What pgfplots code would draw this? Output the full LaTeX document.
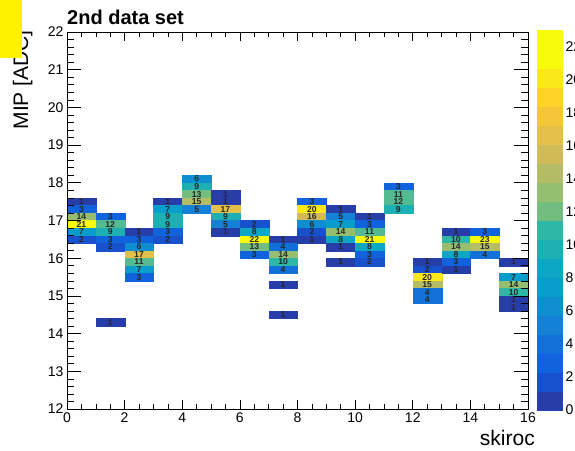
\documentclass[border=0pt]{standalone}
\usepackage{pgfplots}
\pgfplotsset{compat=1.18}
\usepackage{fontspec}
\setmainfont{Liberation Sans}
\pgfplotsset{
  colormap={rootbird}{
    rgb=(0.1519,0.2395,0.6575)
    rgb=(0.0909,0.3187,0.7962)
    rgb=(0.0629,0.3883,0.8625)
    rgb=(0.0700,0.4428,0.8512)
    rgb=(0.0777,0.5018,0.8390)
    rgb=(0.0564,0.5584,0.8199)
    rgb=(0.0340,0.6148,0.8007)
    rgb=(0.0516,0.6556,0.7645)
    rgb=(0.1158,0.6867,0.7035)
    rgb=(0.1802,0.7178,0.6425)
    rgb=(0.3237,0.7307,0.5702)
    rgb=(0.4556,0.7425,0.5037)
    rgb=(0.5869,0.7460,0.4433)
    rgb=(0.7050,0.7393,0.3957)
    rgb=(0.8214,0.7337,0.3475)
    rgb=(0.8883,0.7538,0.2896)
    rgb=(0.9607,0.7757,0.2270)
    rgb=(0.9915,0.8282,0.1664)
    rgb=(0.9837,0.9087,0.1079)
    rgb=(0.9764,0.9832,0.0539)
    rgb=(0.9764,0.9832,0.0539)
  },
  colormap access=piecewise constant,
}
\pgfplotstableread{
x y z
0.5 17.5 1
0.5 17.3 3
0.5 17.1 14
0.5 16.9 21
0.5 16.7 7
0.5 16.5 2
1.5 17.1 3
1.5 16.9 12
1.5 16.7 9
1.5 16.5 3
1.5 16.3 2
1.5 14.3 1
2.5 16.7 1
2.5 16.5 3
2.5 16.3 6
2.5 16.1 17
2.5 15.9 11
2.5 15.7 7
2.5 15.5 3
3.5 17.5 1
3.5 17.3 7
3.5 17.1 9
3.5 16.9 9
3.5 16.7 3
3.5 16.5 2
4.5 18.1 6
4.5 17.9 9
4.5 17.7 13
4.5 17.5 15
4.5 17.3 5
5.5 17.7 1
5.5 17.5 1
5.5 17.3 17
5.5 17.1 9
5.5 16.9 5
5.5 16.7 1
6.5 16.9 2
6.5 16.7 8
6.5 16.5 22
6.5 16.3 13
6.5 16.1 3
7.5 16.5 1
7.5 16.3 4
7.5 16.1 14
7.5 15.9 10
7.5 15.7 4
7.5 15.3 1
7.5 14.5 1
8.5 17.5 3
8.5 17.3 20
8.5 17.1 16
8.5 16.9 6
8.5 16.7 2
8.5 16.5 1
9.5 17.3 1
9.5 17.1 5
9.5 16.9 7
9.5 16.7 14
9.5 16.5 8
9.5 16.3 1
9.5 15.9 1
10.5 17.1 1
10.5 16.9 3
10.5 16.7 11
10.5 16.5 21
10.5 16.3 8
10.5 16.1 3
10.5 15.9 2
11.5 17.9 3
11.5 17.7 11
11.5 17.5 12
11.5 17.3 9
12.5 15.9 1
12.5 15.7 2
12.5 15.5 20
12.5 15.3 15
12.5 15.1 4
12.5 14.9 4
13.5 16.7 1
13.5 16.5 10
13.5 16.3 14
13.5 16.1 8
13.5 15.9 3
13.5 15.7 1
14.5 16.7 3
14.5 16.5 23
14.5 16.3 15
14.5 16.1 4
15.5 15.9 1
15.5 15.5 7
15.5 15.3 14
15.5 15.1 10
15.5 14.9 1
15.5 14.7 1
}\cells
\pgfplotstableread{
x y z
0.5 0.575 0.575
0.5 1.725 1.725
0.5 2.875 2.875
0.5 4.025 4.025
0.5 5.175 5.175
0.5 6.325 6.325
0.5 7.475 7.475
0.5 8.625 8.625
0.5 9.775 9.775
0.5 10.925 10.925
0.5 12.075 12.075
0.5 13.225 13.225
0.5 14.375 14.375
0.5 15.525 15.525
0.5 16.675 16.675
0.5 17.825 17.825
0.5 18.975 18.975
0.5 20.125 20.125
0.5 21.275 21.275
0.5 22.425 22.425
}\bands
\begin{document}
\begin{tikzpicture}
% main axis: cells and x ticks
\begin{axis}[
  at={(67pt,41pt)}, anchor=south west,
  x=28.8125pt, y=37.7pt,
  xmin=0, xmax=16, ymin=12, ymax=22,
  point meta min=0, point meta max=23,
  axis on top,
  tick align=inside, tick pos=both,
  xticklabel pos=lower,
  xtick={0,2,...,16}, minor x tick num=3,
  ytick=\empty,
  major tick length=9.5pt, minor tick length=4.7pt,
  axis line style={line width=0.8pt, black},
  every tick/.style={black, line width=0.6pt},
  tick label style={font=\fontsize{14}{16}\selectfont},
  /pgf/number format/assume math mode=true,
  clip=false,
]
\addplot[scatter, only marks, mark=square*, mark size=3.77pt,
  mark options={xscale=3.8214, line width=0.1pt},
  scatter/use mapped color={draw=mapped color, fill=mapped color},
  point meta=explicit,
] table[x=x, y=y, meta=z] {\cells};
\addplot[draw=none, mark=none,
  point meta=explicit,
  nodes near coords,
  nodes near coords style={anchor=center, text=black!85, inner sep=0pt,
    font=\bfseries\fontsize{8.6}{9}\selectfont},
] table[x=x, y=y, meta=z] {\cells};
\end{axis}
% overlay axis: y ticks
\begin{axis}[
  at={(67pt,41pt)}, anchor=south west,
  x=28.8125pt, y=37.7pt,
  xmin=0, xmax=16, ymin=12, ymax=22,
  axis on top,
  tick align=inside, tick pos=both,
  yticklabel pos=left,
  xtick=\empty,
  ytick={12,13,...,22}, minor y tick num=4,
  major tick length=14pt, minor tick length=7pt,
  axis line style={line width=0.8pt, black},
  every tick/.style={black, line width=0.6pt},
  tick label style={font=\fontsize{14}{16}\selectfont},
  /pgf/number format/assume math mode=true,
]
\end{axis}
% colour bar
\begin{axis}[
  at={(537pt,40pt)}, anchor=south west,
  x=25pt, y=16.5217pt,
  xmin=0, xmax=1, ymin=0, ymax=23,
  point meta min=0, point meta max=23,
  axis on top,
  axis x line=none, axis y line*=right,
  tick align=inside,
  ytick={0,2,...,22}, minor y tick num=0,
  major tick length=14pt,
  axis line style={line width=0.8pt, black},
  every tick/.style={black, line width=0.6pt},
  yticklabel style={font=\fontsize{14}{16}\selectfont},
  /pgf/number format/assume math mode=true,
]
\addplot[scatter, only marks, mark=square*, mark size=9.5pt,
  mark options={xscale=1.3158, line width=0.1pt},
  scatter/use mapped color={draw=mapped color, fill=mapped color},
  point meta=explicit,
] table[x=x, y=y, meta=z] {\bands};
\end{axis}
\node[anchor=base west, font=\bfseries\fontsize{20}{24}\selectfont, inner sep=0pt] at (67pt,425pt) {2nd data set};
\node[anchor=base east, font=\fontsize{21}{24}\selectfont, inner sep=0pt] at (535pt,5pt) {skiroc};
\node[anchor=base east, rotate=90, font=\fontsize{21}{24}\selectfont, inner sep=0pt] at (28pt,420pt) {MIP [ADC]};
\fill[yellow] (0pt,392pt) rectangle (22pt,450pt);
\pgfresetboundingbox
\useasboundingbox (0pt,0pt) rectangle (575pt,450pt);
\end{tikzpicture}
\end{document}
